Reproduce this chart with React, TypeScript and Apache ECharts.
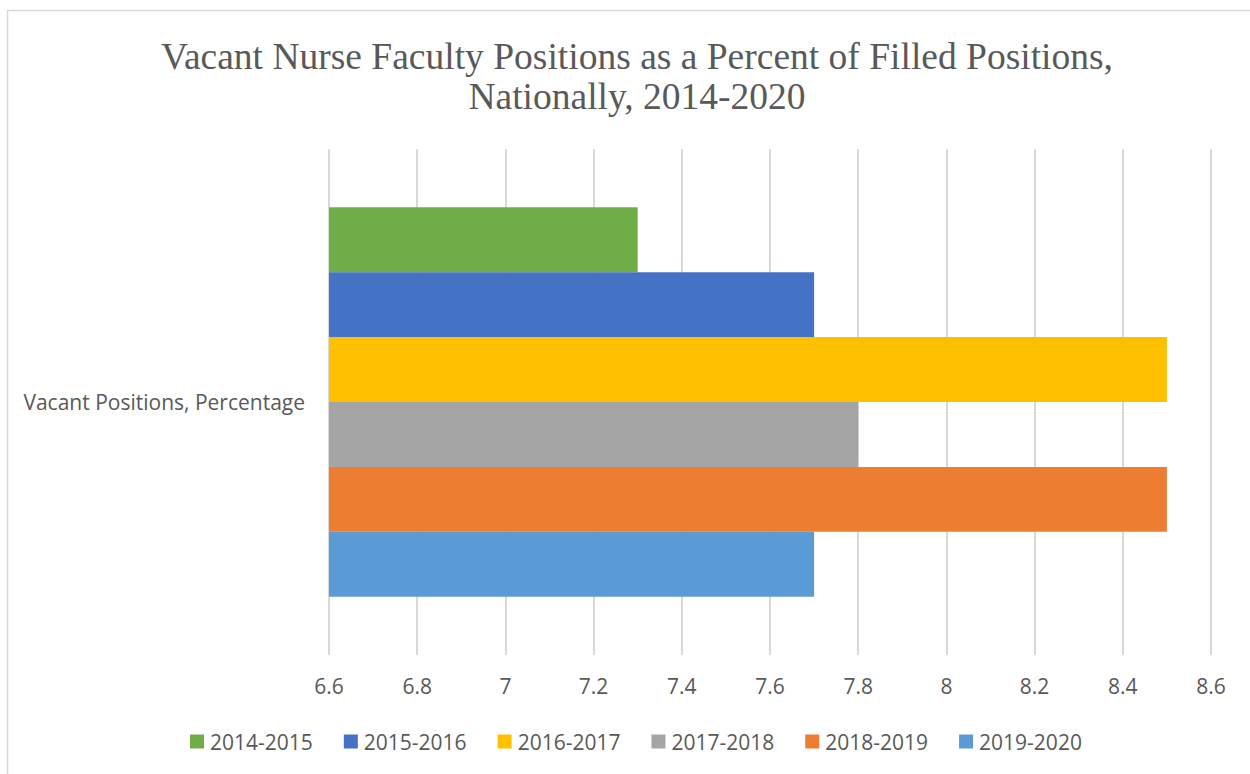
import React, { useEffect, useRef } from "react";
import * as echarts from "echarts";

const categories = ["Vacant Positions, Percentage"];
const seriesNames = ["2014-2015", "2015-2016", "2016-2017", "2017-2018", "2018-2019", "2019-2020"];
const seriesValues = [7.3, 7.7, 8.5, 7.8, 8.5, 7.7];
const seriesColors = ["#70AD47", "#4472C4", "#FFC000", "#A5A5A5", "#ED7D31", "#5B9BD5"];
const titleText = "Vacant Nurse Faculty Positions as a Percent of Filled Positions,\nNationally, 2014-2020";

export default function App() {
  const ref = useRef<HTMLDivElement>(null);
  useEffect(() => {
    if (!ref.current) return;
    const chart = echarts.init(ref.current, null, { renderer: "svg" });
    const textColor = "#595959";
    const font = "'Open Sans', sans-serif";
    chart.setOption({
      animation: false,
      backgroundColor: "#ffffff",
      graphic: [
        {
          type: "rect",
          shape: { x: 7.5, y: 10.5, width: 1260, height: 800 },
          style: { fill: "none", stroke: "#d9d9d9", lineWidth: 1.5 },
          silent: true,
        },
      ],
      title: {
        text: titleText,
        left: 632,
        textAlign: "center",
        top: 31,
        textStyle: {
          fontFamily: "'Liberation Serif', 'Times New Roman', serif",
          fontSize: 37.5,
          fontWeight: "normal",
          color: textColor,
          lineHeight: 40,
        },
      },
      legend: {
        data: seriesNames,
        left: 185,
        top: 726,
        itemWidth: 14,
        itemHeight: 14,
        itemGap: 31,
        icon: "rect",
        textStyle: { fontFamily: font, fontSize: 21, color: textColor, padding: [0, 0, 0, 1] },
      },
      grid: { left: 329, right: 39, top: 149, bottom: 119, containLabel: false },
      xAxis: {
        type: "value",
        min: 6.6,
        max: 8.6,
        interval: 0.2,
        axisLine: { show: false },
        axisTick: { show: false },
        splitLine: { show: true, lineStyle: { color: "#d9d9d9", width: 2 } },
        axisLabel: {
          fontFamily: font,
          fontSize: 21,
          color: textColor,
          margin: 20,
          formatter: (v: number) => String(Math.round(v * 10) / 10),
        },
      },
      yAxis: {
        type: "category",
        data: categories,
        inverse: true,
        axisLine: { show: false },
        axisTick: { show: false },
        axisLabel: { fontFamily: font, fontSize: 21, color: textColor, margin: 24 },
      },
      series: seriesNames.map((name, i) => ({
        name,
        type: "bar",
        data: [seriesValues[i]],
        itemStyle: { color: seriesColors[i] },
        barGap: "0%",
        barCategoryGap: "23%",
      })),
    });
    return () => chart.dispose();
  }, []);
  return (
    <div
      ref={ref}
      style={{ position: "fixed", left: 0, top: 0, width: 1250, height: 774 }}
    />
  );
}
